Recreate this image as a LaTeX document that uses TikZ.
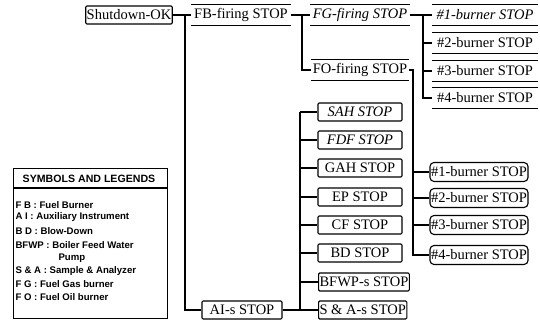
\documentclass[tikz,border=0pt]{standalone}
\usepackage{fontspec}
\setmainfont{Liberation Serif}
\newfontfamily\legfont{Liberation Sans}
\begin{document}
\begin{tikzpicture}[x=1pt,y=-1pt,line width=1.1pt,
  txt/.style={font=\fontsize{14.5}{16}\selectfont, inner sep=1pt},
  box/.style={txt, draw, rounded corners=1.2pt, minimum height=18pt},
  rbox/.style={txt, minimum height=20pt},
  lbox/.style={txt, draw, rounded corners=4pt, minimum height=19pt, minimum width=98pt},
  mbox/.style={box, minimum width=84pt},
  leg/.style={font=\legfont\bfseries\fontsize{9.6}{10}\selectfont, inner sep=0pt, anchor=west},
  rule/.style={line width=1.1pt}]
\useasboundingbox (0,0) rectangle (540,320);

% top row
\node[box, minimum width=84pt] (sd) at (129,15) {Shutdown-OK};
\node[rbox, minimum width=98pt] (fb) at (241,15) {FB-firing STOP};
\node[rbox, minimum width=98pt] (fg) at (360,15) {\itshape FG-firing STOP};
\node[rbox, minimum width=96pt] (fo) at (360,70) {FO-firing STOP};

% top burners
\node[rbox, minimum width=104pt] (t1) at (485,15) {\itshape \#1-burner STOP};
\node[rbox, minimum width=104pt] (t2) at (485,43) {\#2-burner STOP};
\node[rbox, minimum width=104pt] (t3) at (485,71) {\#3-burner STOP};
\node[rbox, minimum width=104pt] (t4) at (485,98) {\#4-burner STOP};

\foreach \n in {fb,fg,fo,t1,t2,t3,t4}{
  \draw[rule] (\n.north west) -- (\n.north east);
  \draw[rule] (\n.south west) -- (\n.south east);
}

% lower burners
\node[lbox] (l1) at (479,172) {\#1-burner STOP};
\node[lbox] (l2) at (479,198) {\#2-burner STOP};
\node[lbox] (l3) at (479,225) {\#3-burner STOP};
\node[lbox] (l4) at (479,255) {\#4-burner STOP};

% AI column
\node[box, minimum width=80pt] (ai) at (242,310) {AI-s STOP};
\node[mbox] (m1) at (360,112) {\itshape SAH STOP};
\node[mbox] (m2) at (360,140) {\itshape FDF STOP};
\node[mbox] (m3) at (360,168) {GAH STOP};
\node[mbox] (m4) at (360,197) {EP STOP};
\node[mbox] (m5) at (360,225) {CF STOP};
\node[mbox] (m6) at (360,253) {BD STOP};
\node[mbox, anchor=west] (m7) at (318,282) {BFWP-s STOP};
\node[mbox, anchor=west] (m8) at (318,310) {S \& A-s STOP};

% spine coordinates
\coordinate (s1) at (185,0);
\coordinate (s2) at (302,0);
\coordinate (s3) at (423,0);
\coordinate (s4) at (413,0);
\coordinate (s5) at (300,0);

% connectors
\draw (sd.east) -- (fb.west);
\draw (s1 |- fb.west) |- (ai.west);
\draw (fb.east) -- (fg.west);
\draw (s2 |- fg.west) |- (fo.west);
\draw (fg.east) -- (t1.west);
\draw (s3 |- t1.west) |- (t4.west);
\draw (s3 |- t2.west) -- (t2.west);
\draw (s3 |- t3.west) -- (t3.west);
\draw (fo.east) -| (s4 |- l1.west) |- (l4.west);
\draw (s4 |- l1.west) -- (l1.west);
\draw (s4 |- l2.west) -- (l2.west);
\draw (s4 |- l3.west) -- (l3.west);
\draw (ai.east) -- (m8.west);
\draw (s5 |- m1.west) -- (s5 |- m8.west);
\foreach \m in {m1,m2,m3,m4,m5,m6,m7}{
  \draw (s5 |- \m.west) -- (\m.west);
}

% legend
\node[draw, line width=1.1pt, minimum width=154pt, minimum height=150pt, anchor=north west, inner sep=0pt] (lg) at (13,168) {};
\coordinate (hl) at (0,188);
\draw (lg.west |- hl) -- (lg.east |- hl);
\node[font=\legfont\bfseries\fontsize{10.6}{11}\selectfont, inner sep=0pt] (lt) at (89,178.5) {SYMBOLS AND LEGENDS};
\node[leg] (e1) at (15,205) {F B : Fuel Burner};
\node[leg] (e2) at (15,217.5) {A I : Auxiliary Instrument};
\node[leg] (e3) at (15,231) {B D : Blow-Down};
\node[leg] (e4) at (15,245) {BFWP : Boiler Feed Water};
\node[leg] (e5) at (58,258) {Pump};
\node[leg] (e6) at (15,271) {S \& A : Sample \& Analyzer};
\node[leg] (e7) at (15,284) {F G : Fuel Gas burner};
\node[leg] (e8) at (15,297) {F O : Fuel Oil burner};
\end{tikzpicture}
\end{document}
